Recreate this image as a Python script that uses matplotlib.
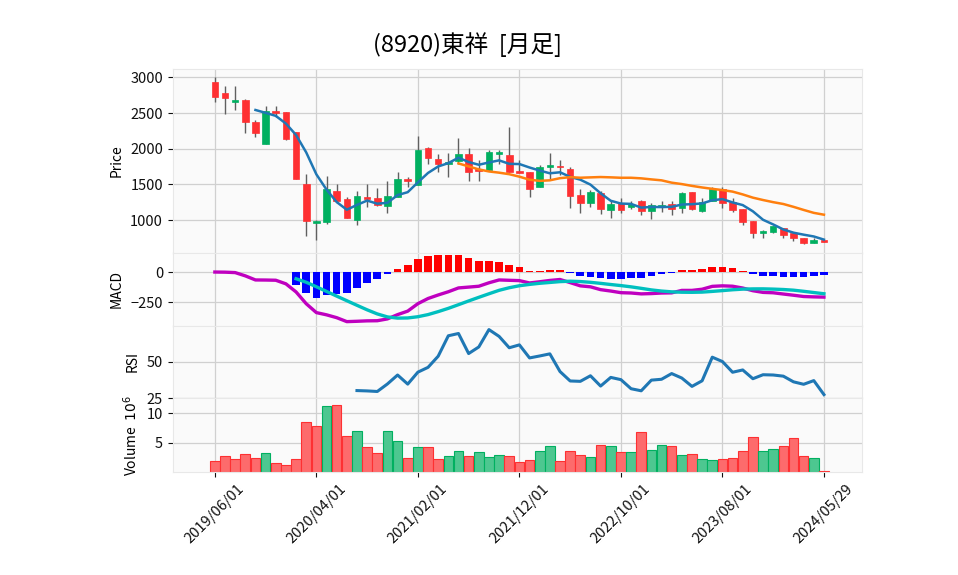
import numpy as np
import pandas as pd
import matplotlib
matplotlib.use("Agg")
import matplotlib.pyplot as plt

plt.rcParams['font.family'] = ['Noto Sans CJK JP', 'DejaVu Sans']

title = "(8920)東祥  [月足]"

# monthly bars 2019/06 .. 2024/05 plus the latest day (2024/05/29)
dates = list(pd.date_range("2019-06-01", periods=60, freq="MS")) + [pd.Timestamp("2024-05-29")]

opens = np.array([2935, 2780, 2659, 2682, 2374, 2070, 2528, 2514, 2234, 1505,
                  963, 972, 1406, 1294, 1005, 1322, 1308, 1201, 1327, 1579,
                  1495, 2014, 1855, 1785, 1832, 1921, 1710, 1701, 1921, 1914,
                  1687, 1673, 1467, 1743, 1757, 1715, 1346, 1243, 1374, 1145,
                  1234, 1187, 1262, 1135, 1187, 1220, 1173, 1388, 1131, 1271,
                  1439, 1248, 1154, 986, 822, 832, 888, 818, 748, 687, 720])
highs = np.array([3005, 2879, 2879, 2696, 2402, 2598, 2598, 2514, 2234, 1640,
                  1000, 1617, 1500, 1327, 1402, 1509, 1444, 1542, 1668, 1607,
                  2178, 2028, 1921, 1935, 2145, 2014, 1841, 1981, 1981, 2299,
                  1841, 1673, 1776, 1935, 1850, 1738, 1430, 1420, 1411, 1271,
                  1304, 1271, 1280, 1243, 1262, 1271, 1397, 1397, 1313, 1458,
                  1458, 1304, 1154, 986, 869, 925, 897, 832, 757, 746, 720])
lows = np.array([2650, 2481, 2537, 2215, 2159, 2061, 2449, 2117, 1570, 776,
                 729, 953, 1234, 1028, 939, 1187, 1201, 1107, 1322, 1467,
                 1486, 1780, 1668, 1598, 1785, 1547, 1547, 1692, 1780, 1668,
                 1654, 1327, 1458, 1575, 1631, 1168, 1107, 1187, 1093, 1037,
                 1107, 1163, 1075, 1023, 1117, 1070, 1107, 1140, 1112, 1262,
                 1177, 1121, 930, 757, 757, 822, 746, 710, 664, 678, 696])
closes = np.array([2729, 2715, 2682, 2378, 2215, 2528, 2505, 2140, 1579, 995,
                   992, 1435, 1271, 1037, 1336, 1294, 1215, 1336, 1575, 1542,
                   1981, 1874, 1790, 1810, 1921, 1678, 1682, 1953, 1955, 1678,
                   1664, 1439, 1738, 1766, 1748, 1341, 1243, 1392, 1159, 1224,
                   1145, 1220, 1131, 1206, 1215, 1163, 1378, 1159, 1257, 1439,
                   1243, 1145, 972, 822, 846, 916, 794, 746, 682, 720, 696])
# volume in millions of shares
volume = np.array([1.84, 2.69, 2.18, 3.03, 2.35, 3.20, 1.50, 1.16, 2.18, 8.47,
                   7.79, 11.19, 11.36, 6.14, 6.99, 4.22, 3.20, 6.99, 5.24, 2.35,
                   4.22, 4.22, 2.23, 2.74, 3.54, 2.74, 3.37, 2.52, 2.86, 2.69,
                   1.67, 2.01, 3.54, 4.39, 1.84, 3.54, 2.86, 2.57, 4.56, 4.39,
                   3.37, 3.37, 6.77, 3.71, 4.56, 4.39, 2.86, 3.03, 2.23, 2.01,
                   2.18, 2.40, 3.54, 5.92, 3.54, 3.93, 4.39, 5.75, 2.69, 2.40,
                   0.15])

up_col, down_col = '#00b060', '#fe3032'
vup_col, vdown_col = '#4dc790', '#fd6b6c'

x = np.arange(len(closes))
c = pd.Series(closes, dtype=float)

ma5 = c.rolling(5).mean()
ma25 = c.rolling(25).mean()

macd = c.ewm(span=12, adjust=False).mean() - c.ewm(span=26, adjust=False).mean()
signal = macd.rolling(9).mean()
hist = macd - signal

d = c.diff()
gain = d.clip(lower=0).rolling(14).mean()
loss = (-d.clip(upper=0)).rolling(14).mean()
rsi = 100 * gain / (gain + loss)

fig = plt.figure(figsize=(9.58, 5.75), dpi=100)
left, width = 0.1803, 0.7195
ax1 = fig.add_axes([left, 0.560, width, 0.320])
ax2 = fig.add_axes([left, 0.4339, width, 0.1261], sharex=ax1)
ax3 = fig.add_axes([left, 0.3070, width, 0.1269], sharex=ax1)
ax4 = fig.add_axes([left, 0.1791, width, 0.1279], sharex=ax1)

for ax in (ax1, ax2, ax3, ax4):
    ax.set_facecolor('#fafafa')
    ax.grid(True, color='#d0d0d0', lw=0.9)
    ax.set_axisbelow(True)
    for s in ax.spines.values():
        s.set_color('#e8e8e8')
    ax.tick_params(labelsize=10.5, color='#101010', labelcolor='#101010')
    if ax is not ax4:
        ax.tick_params(labelbottom=False, bottom=False)

# candles
up = closes >= opens
body_col = np.where(up, up_col, down_col)
ax1.vlines(x, lows, highs, color='#606060', lw=1, zorder=2)
ax1.bar(x, np.abs(closes - opens), width=0.65, bottom=np.minimum(opens, closes),
        color=body_col, edgecolor=body_col, lw=0.5, zorder=3)
ax1.plot(x, ma5, color='tab:blue', lw=1.8, zorder=4)
ax1.plot(x, ma25, color='tab:orange', lw=1.8, zorder=4)
ax1.set_ylim(540, 3118)
ax1.set_yticks([1000, 1500, 2000, 2500, 3000])
ax1.set_ylabel('Price', fontsize=10, labelpad=5)

# MACD
hist_col = np.where(hist >= 0, 'red', 'blue')
ax2.bar(x, hist, width=0.75, color=hist_col, zorder=2)
ax2.plot(x, macd, color='m', lw=2.4, zorder=3)
ax2.plot(x, signal, color='c', lw=2.4, zorder=3)
ax2.set_ylim(-441, 157)
ax2.set_yticks([-250, 0])
ax2.set_ylabel('MACD', fontsize=10, labelpad=5)

# RSI
ax3.plot(x, rsi, color='tab:blue', lw=2.2)
ax3.set_ylim(24.7, 74.7)
ax3.set_yticks([25, 50])
ax3.set_ylabel('RSI', fontsize=10, labelpad=5)

# volume, coloured by close vs previous close
prev = np.concatenate([[opens[0]], closes[:-1]])
vcol = np.where(closes >= prev, vup_col, vdown_col)
vedge = np.where(closes >= prev, up_col, down_col)
ax4.bar(x, volume, width=0.95, color=vcol, edgecolor=vedge, lw=0.8)
ax4.set_ylim(0.3 * volume.min(), 1.1 * volume.max())
ax4.set_yticks([5, 10])
ax4.set_ylabel('Volume  $10^{6}$', fontsize=10, labelpad=5)

ticks = [0, 10, 20, 30, 40, 50, 60]
ax4.set_xticks(ticks)
ax4.set_xticklabels([dates[i].strftime('%Y/%m/%d') for i in ticks], rotation=45)
ax1.set_xlim(-4.15, 63.75)

fig.text(0.4885, 0.922, title, ha='center', va='center', fontsize=17)

fig.savefig('out.png', dpi=100)
